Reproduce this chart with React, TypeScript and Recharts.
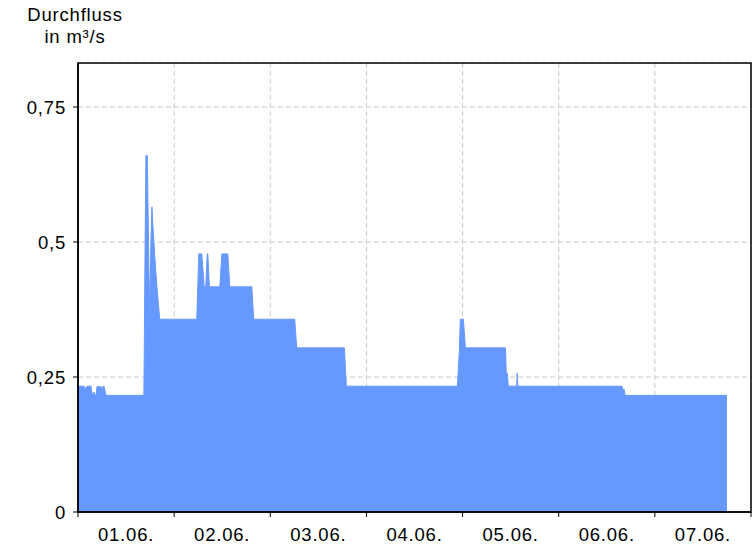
import React from 'react';
import { AreaChart, Area, XAxis, YAxis, CartesianGrid, ReferenceArea } from 'recharts';

// time in hours since 01.06. 00:00, discharge in m³/s
const hours = [
  0, 1.5, 1.75, 2, 2.25, 3.25, 3.5, 3.75, 4, 4.25, 4.5, 4.75, 5.75, 6, 6.25, 6.5, 7,
  16.45, 16.7, 16.95, 17.3, 17.7, 17.95, 18.2, 18.45, 18.7, 19.2, 19.7, 19.9, 20.4,
  29.65, 30.15, 30.9, 31.5, 31.9, 32.25, 32.4, 32.8, 35.4, 35.9, 37.4, 37.9, 43.4, 43.85,
  54.1, 54.6, 66.5, 67.0, 94.7, 95.2, 95.45, 96.2, 96.7, 106.7, 106.9, 107.2, 107.4,
  109.5, 109.65, 109.8, 135.8, 136.05, 136.3, 136.55, 162,
];
const flow = [
  0.233, 0.233, 0.229, 0.229, 0.233, 0.233, 0.219, 0.219, 0.222, 0.216, 0.216, 0.232, 0.232, 0.222, 0.233, 0.233, 0.216,
  0.216, 0.45, 0.66, 0.66, 0.45, 0.365, 0.5, 0.565, 0.53, 0.47, 0.417, 0.4, 0.357,
  0.357, 0.478, 0.478, 0.417, 0.417, 0.478, 0.478, 0.417, 0.417, 0.478, 0.478, 0.417, 0.417, 0.357,
  0.357, 0.304, 0.304, 0.233, 0.233, 0.3, 0.357, 0.357, 0.304, 0.304, 0.257, 0.257, 0.233,
  0.233, 0.257, 0.233, 0.233, 0.225, 0.228, 0.216, 0.216,
];
const dayLabels = ['01.06.', '02.06.', '03.06.', '04.06.', '05.06.', '06.06.', '07.06.'];
const xTicks = [0, 24, 48, 72, 96, 120, 144, 168];
const yTicks = [0, 0.25, 0.5, 0.75];
const Y_MAX = 0.8315;

const data = hours.map((h, i) => ({ h, q: flow[i] }));

// body margin is reset below, so these are page coordinates
const W = 756;
const H = 546;
const M = { top: 63, right: 5, bottom: 4, left: 8 };
const Y_W = 70;
const X_H = 30;
const PLOT_W = W - M.left - M.right - Y_W;
const HALF_DAY = PLOT_W / 14;
const FONT = '"Liberation Sans", Arial, sans-serif';
const FS = 18.5;
const LS = 0.8;

const DayTick = (props: any) => {
  const { x, y, payload } = props;
  const idx = Math.round(payload.value / 24);
  if (idx >= dayLabels.length) return <g />;
  return (
    <text x={x + HALF_DAY} y={y} dy={22} textAnchor="middle" fill="#000" fontSize={FS} fontFamily={FONT} letterSpacing={LS}>
      {dayLabels[idx]}
    </text>
  );
};

const fmtY = (v: number) => (v === 0 ? '0' : String(v).replace('.', ','));

const ValueTick = (props: any) => {
  const { y, payload } = props;
  return (
    <text x={M.left + Y_W - 12} y={y} dy={6.6} textAnchor="end" fill="#000" fontSize={FS} fontFamily={FONT} letterSpacing={LS}>
      {fmtY(payload.value)}
    </text>
  );
};

export default function App() {
  return (
    <div style={{ position: 'relative', width: W, height: H, fontFamily: FONT }}>
      <style>{'body{margin:0}'}</style>
      <div style={{ position: 'absolute', zIndex: 2, left: 8, top: 4, width: 134, textAlign: 'center', fontSize: FS, lineHeight: '22px', letterSpacing: LS, color: '#000' }}>
        Durchfluss
        <br />
        in m³/s
      </div>
      <AreaChart width={W} height={H} data={data} margin={M}>
        <CartesianGrid stroke="#c8c8c8" strokeDasharray="5 3" />
        <XAxis
          dataKey="h"
          type="number"
          domain={[0, 168]}
          ticks={xTicks}
          interval={0}
          height={X_H}
          tickSize={5}
          axisLine={{ stroke: '#000', strokeWidth: 1.5 }}
          tickLine={{ stroke: '#000' }}
          tick={<DayTick />}
        />
        <YAxis
          type="number"
          domain={[0, Y_MAX]}
          ticks={yTicks}
          allowDataOverflow
          width={Y_W}
          tickSize={5}
          axisLine={{ stroke: '#000', strokeWidth: 1.5 }}
          tickLine={{ stroke: '#000' }}
          tick={<ValueTick />}
        />
        <Area
          type="linear"
          dataKey="q"
          stroke="#6699ff"
          strokeWidth={1}
          fill="#6699ff"
          fillOpacity={1}
          isAnimationActive={false}
          dot={false}
          activeDot={false}
        />
        {/* frame around the plot area */}
        <ReferenceArea x1={0} x2={168} y1={0} y2={Y_MAX} fill="none" fillOpacity={0} stroke="#000" strokeWidth={1.5} ifOverflow="visible" />
      </AreaChart>
    </div>
  );
}
